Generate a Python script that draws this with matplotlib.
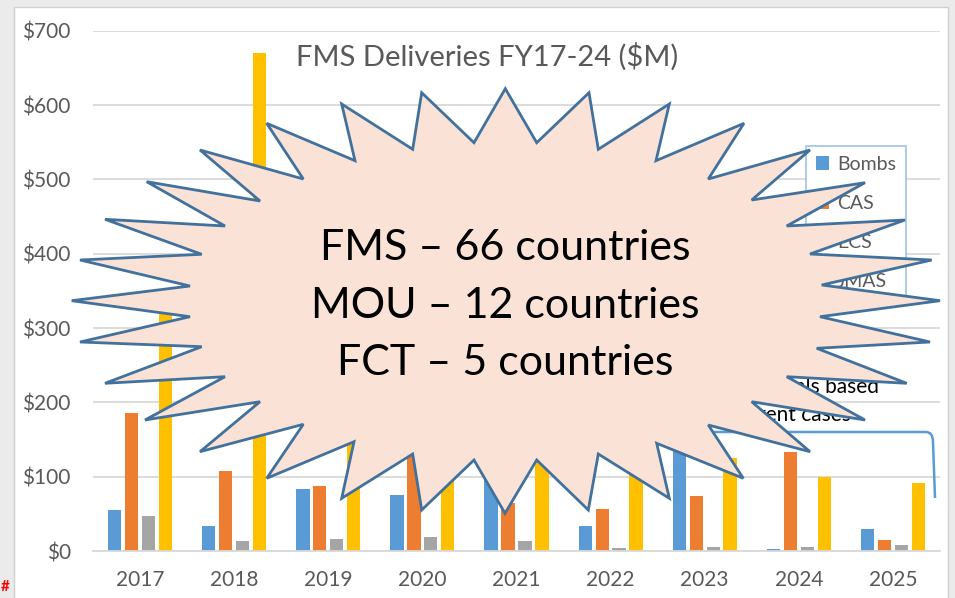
import matplotlib
matplotlib.use("Agg")
import matplotlib.pyplot as plt
from matplotlib.patches import Polygon, Rectangle, PathPatch
from matplotlib.path import Path
import matplotlib.transforms as mtrans
import numpy as np

# ---------------- data ----------------
years = ["2017", "2018", "2019", "2020", "2021", "2022", "2023", "2024", "2025"]
bombs = [55, 34, 83, 76, 105, 33, 135, 3, 30]
cas = [186, 107, 87, 135, 65, 57, 74, 133, 15]
ecs = [47, 13, 16, 19, 14, 4, 6, 6, 8]
jmas = [335, 670, 150, 110, 125, 105, 125, 100, 92]
series_names = ["Bombs", "CAS", "ECS", "JMAS"]
series_values = [bombs, cas, ecs, jmas]
series_colors = ["#5B9BD5", "#ED7D31", "#A5A5A5", "#FFC000"]
yticks = [0, 100, 200, 300, 400, 500, 600, 700]
ytick_labels = ["$0", "$100", "$200", "$300", "$400", "$500", "$600", "$700"]
title = "FMS Deliveries FY17-24 ($M)"
burst_lines = ["FMS \u2013 66 countries", "MOU \u2013 12 countries", "FCT \u2013 5 countries"]
note_lines = ["FY24-25 totals based", "on current cases"]

# starburst outline (figure pixel coordinates, y downward)
burst_x = [71.7, 190, 80, 201.7, 105, 225, 146.7, 260, 200, 303.3, 266.7, 355, 341.7, 412.7,
           421.7, 474, 505.3, 536.7, 589, 598.3, 669.3, 656, 744, 708.3, 810, 751.7, 865, 786.7,
           905, 810, 931.7, 821.7, 940, 820, 930, 816.7, 906.7, 786.7, 865, 751.7, 810, 708.3,
           743.3, 656.7, 669.3, 598.3, 588.3, 536.7, 505, 474, 421.7, 412.7, 341.7, 354, 266.7,
           303.3, 200, 260, 145, 225, 105, 201.7, 80, 190]
burst_y = [300.7, 286, 260, 254.3, 219.3, 226, 181.7, 201, 150, 179, 123.3, 160.7, 104, 149.3,
           92.7, 142.7, 88.7, 142.7, 92.7, 149.3, 104, 160.7, 123.3, 179, 150, 200, 182.7, 226,
           220, 254, 260, 285, 300.7, 316.7, 342, 348.3, 383.3, 376.7, 420, 401.7, 451.7, 425,
           478.3, 443.3, 498.3, 454, 510, 460, 513.3, 460, 510, 454, 498.3, 441.7, 478.3,
           424.3, 451.7, 401.7, 420, 376.7, 383.3, 346.7, 342, 316.7]

W, H = 955, 598
plt.rcParams['font.family'] = ['Lato', 'DejaVu Sans']
fig = plt.figure(figsize=(W / 100, H / 100), dpi=100, facecolor="#EBEBEB")
px = mtrans.Affine2D().scale(1 / W, -1 / H).translate(0, 1) + fig.transFigure

# chart area background
fig.add_artist(Rectangle((14, 7), 934, 620, transform=px, facecolor='white',
                         edgecolor='#D0D0D0', lw=1, zorder=-1))

ax = fig.add_axes([93 / W, 1 - 551 / H, (940 - 93) / W, (551 - 30.7) / H])
ax.set_facecolor('none')
x = np.arange(len(years))
bw = 0.141
offsets = [-0.27, -0.09, 0.09, 0.27]
for name, vals, col, off in zip(series_names, series_values, series_colors, offsets):
    ax.bar(x + off, vals, bw, color=col, label=name, zorder=2)

ax.set_xlim(-0.5, len(years) - 0.5)
ax.set_ylim(0, 700)
ax.set_yticks(yticks)
ax.set_yticklabels(ytick_labels)
ax.set_xticks(x)
ax.set_xticklabels(years)
ax.yaxis.grid(True, color='#D9D9D9', lw=1.3)
ax.set_axisbelow(True)
for s in ['top', 'right', 'left']:
    ax.spines[s].set_visible(False)
ax.spines['bottom'].set_color('#D9D9D9')
ax.spines['bottom'].set_linewidth(1.3)
ax.tick_params(axis='both', length=0, labelsize=15, labelcolor='#595959')
ax.tick_params(axis='y', pad=16)
ax.tick_params(axis='x', pad=14)

leg = ax.legend(loc='upper left', bbox_to_anchor=(806 / W, 1 - 146 / H),
                bbox_transform=fig.transFigure, frameon=True, fancybox=False,
                edgecolor='#9DC3E6', framealpha=1, fontsize=14, labelcolor='#595959',
                handlelength=0.7, handleheight=0.7, handletextpad=0.4,
                labelspacing=1.13, borderpad=0.5, borderaxespad=0)
leg.get_frame().set_linewidth(1.2)

fig.text(487 / W, 1 - 57 / H, title, ha='center', va='center', fontsize=21, color='#595959')

# note text and bracket (beneath the starburst)
fig.text(879 / W, 1 - 393 / H, note_lines[0], ha='right', va='baseline', fontsize=15,
         color='black', zorder=0.6)
fig.text(851 / W, 1 - 421 / H, note_lines[1], ha='right', va='baseline', fontsize=15,
         color='black', zorder=0.6)
br = Path([(690, 432), (926, 432), (933, 432), (933, 442), (935, 498)],
          [Path.MOVETO, Path.LINETO, Path.CURVE3, Path.CURVE3, Path.LINETO])
fig.add_artist(PathPatch(br, transform=px, fill=False, edgecolor='#5B9BD5', lw=1.8, zorder=0.5))

# starburst
verts = list(zip(burst_x, burst_y))
fig.add_artist(Polygon(verts, closed=True, transform=px, facecolor='#FAE3D6',
                       edgecolor='#41719C', lw=2.0, zorder=1))
for txt, yb in zip(burst_lines, [260, 317.5, 375]):
    fig.text(505 / W, 1 - yb / H, txt, ha='center', va='baseline', fontsize=31,
             color='black', zorder=2)

fig.text(1 / W, 1 - 591 / H, "#", color='red', fontsize=11, fontweight='bold', zorder=2)

fig.savefig("out.png", dpi=100, facecolor=fig.get_facecolor())
